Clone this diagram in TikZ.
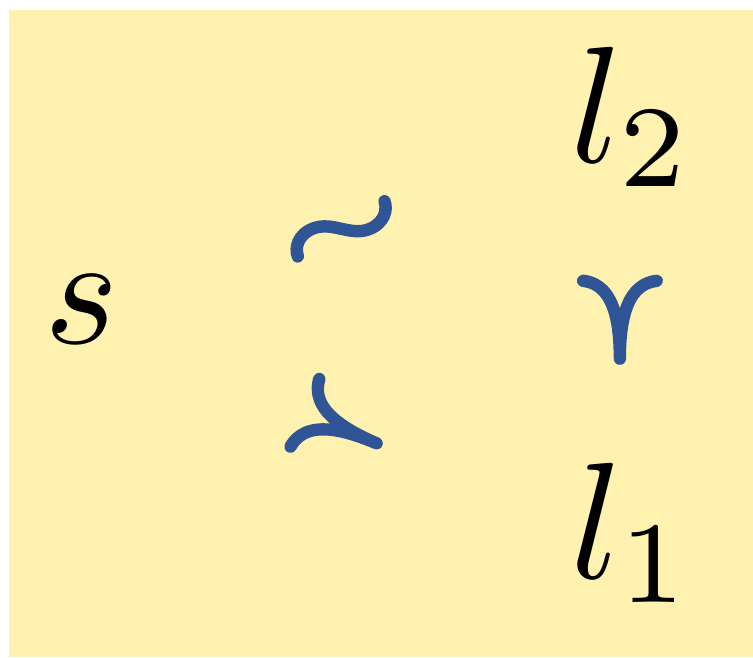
\documentclass[tikz,border=0pt]{standalone}
\usepackage{amsmath}
\usepackage{amssymb}
\usepackage{xcolor}
\usepackage{tikz}
\definecolor{bgyellow}{RGB}{255,242,176}
\definecolor{relblue}{RGB}{47,85,151}
% heavier strokes for the blue relation signs
\newcommand{\heavy}[1]{\special{pdf:literal direct 2 Tr 0.5 w 1 J 1 j}#1\special{pdf:literal direct 0 Tr}}

\begin{document}
\begin{tikzpicture}[x=0.02cm,y=-0.02cm]
        \tikzstyle{var} = [inner sep=0pt, scale=9]
        \tikzstyle{rel} = [inner sep=0pt, scale=7.8, text=relblue]

        \useasboundingbox (0,0) rectangle (753,657);
        \fill[bgyellow] (9,10) rectangle (753,657);

        \node (s) [var, anchor=base] at (82,343) {$s$};
        \node (l2) [var, scale=1.05, anchor=base west] at (567,162) {$l_2$};
        \node (l1) [var, scale=1.05, anchor=base west] at (567,578) {$l_1$};
        \node (sim) [rel, rotate=21, xscale=1.15, yscale=0.85] at (344,236) {\heavy{$\sim$}};
        \node (succ) [rel, rotate=-23] at (341,428) {\heavy{$\succ$}};
        \node (succv) [rel, rotate=-90] at (620,320) {\heavy{$\succ$}};
\end{tikzpicture}
\end{document}
